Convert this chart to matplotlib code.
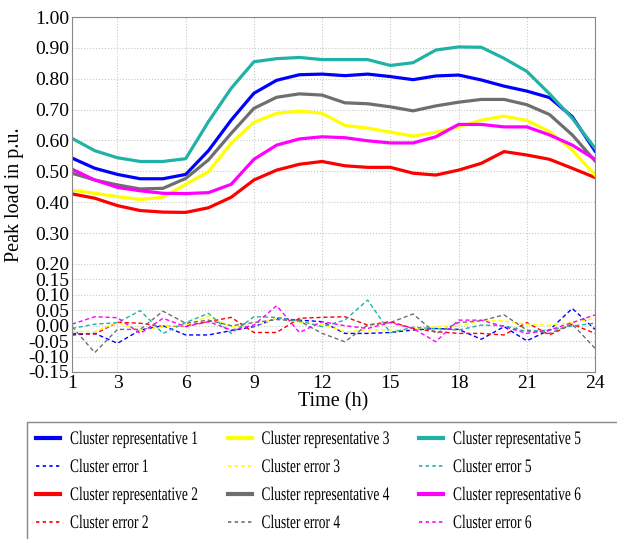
import numpy as np
import matplotlib
matplotlib.use('Agg')
import matplotlib.pyplot as plt
from matplotlib.lines import Line2D
from matplotlib.patches import Rectangle
from matplotlib.patheffects import AbstractPathEffect
from matplotlib.transforms import Affine2D

plt.rcParams['font.family'] = ['Liberation Serif', 'DejaVu Serif']

hours = list(range(1, 25))

# cluster representatives (p.u.)
rep1 = [0.543, 0.510, 0.490, 0.476, 0.476, 0.490, 0.567, 0.666, 0.753, 0.795, 0.813, 0.815,
        0.810, 0.815, 0.807, 0.797, 0.809, 0.812, 0.796, 0.776, 0.760, 0.739, 0.677, 0.566]
rep2 = [0.427, 0.413, 0.389, 0.373, 0.368, 0.367, 0.382, 0.416, 0.472, 0.504, 0.523, 0.532,
        0.518, 0.513, 0.513, 0.494, 0.488, 0.504, 0.526, 0.564, 0.553, 0.539, 0.510, 0.480]
rep3 = [0.439, 0.429, 0.418, 0.409, 0.416, 0.458, 0.499, 0.591, 0.659, 0.688, 0.695, 0.688,
        0.649, 0.640, 0.627, 0.614, 0.627, 0.644, 0.666, 0.679, 0.665, 0.629, 0.569, 0.488]
rep4 = [0.494, 0.472, 0.456, 0.443, 0.445, 0.477, 0.537, 0.623, 0.704, 0.740, 0.751, 0.747,
        0.722, 0.719, 0.709, 0.696, 0.712, 0.724, 0.733, 0.733, 0.716, 0.684, 0.618, 0.534]
rep5 = [0.607, 0.567, 0.544, 0.532, 0.532, 0.541, 0.661, 0.769, 0.855, 0.865, 0.869, 0.862,
        0.862, 0.862, 0.843, 0.852, 0.893, 0.903, 0.902, 0.866, 0.824, 0.751, 0.672, 0.575]
rep6 = [0.507, 0.472, 0.448, 0.437, 0.429, 0.428, 0.431, 0.458, 0.539, 0.585, 0.605, 0.612,
        0.609, 0.599, 0.592, 0.592, 0.612, 0.652, 0.652, 0.644, 0.644, 0.618, 0.585, 0.539]

# cluster errors (p.u.)
err1 = [-0.030, -0.025, -0.057, -0.014, 0.000, -0.030, -0.030, -0.016, -0.003, 0.024, 0.018, 0.013,
        -0.025, -0.025, -0.022, -0.014, -0.009, -0.012, -0.044, -0.003, -0.049, -0.014, 0.056, -0.012]
err2 = [-0.025, -0.027, 0.011, 0.008, -0.003, 0.000, 0.013, 0.027, -0.022, -0.022, 0.024, 0.027,
        0.029, 0.002, 0.013, -0.009, -0.019, -0.025, -0.025, -0.030, 0.010, -0.030, 0.005, -0.025]
err3 = [-0.019, -0.019, 0.010, -0.016, -0.003, 0.002, 0.030, -0.003, 0.000, 0.024, 0.010, 0.005,
        -0.020, -0.014, -0.014, -0.012, -0.003, 0.000, 0.016, 0.016, 0.005, 0.002, 0.010, 0.024]
err4 = [-0.003, -0.087, -0.012, -0.012, 0.047, 0.008, 0.018, 0.000, 0.010, 0.020, 0.015, -0.025,
        -0.052, 0.002, 0.010, 0.038, -0.025, 0.010, 0.016, 0.035, -0.014, -0.025, 0.005, -0.073]
err5 = [-0.009, 0.005, 0.010, 0.049, -0.025, 0.010, 0.040, -0.025, 0.029, 0.027, 0.015, -0.003,
        0.018, 0.083, -0.023, -0.005, -0.010, -0.014, 0.002, 0.000, -0.019, -0.014, -0.001, 0.008]
err6 = [0.005, 0.029, 0.026, -0.025, 0.024, -0.003, 0.013, -0.014, 0.002, 0.065, -0.022, 0.013,
        0.000, -0.009, 0.010, -0.009, -0.052, 0.018, 0.018, -0.003, -0.025, -0.014, 0.010, 0.035]

colors = ['#0000ff', '#ff0000', '#ffff00', '#6e6e6e', '#20b2a6', '#ff00ff']
reps = [rep1, rep2, rep3, rep4, rep5, rep6]
errs = [err1, err2, err3, err4, err5, err6]

yticks = [-0.15, -0.10, -0.05, 0.00, 0.05, 0.10, 0.15, 0.20, 0.30, 0.40, 0.50,
          0.60, 0.70, 0.80, 0.90, 1.00]
xticks = [1, 3, 6, 9, 12, 15, 18, 21, 24]


class Tall(AbstractPathEffect):
    """stretch glyphs upward from the baseline (legend font in the original is condensed)"""
    def __init__(self, sy):
        super().__init__()
        self.sy = sy

    def draw_path(self, renderer, gc, tpath, affine, rgbFace=None):
        renderer.draw_path(gc, tpath, Affine2D().scale(1, self.sy) + affine, rgbFace)


W, H = 617, 539
fig = plt.figure(figsize=(W / 100, H / 100), dpi=100)
ax = fig.add_axes([72/W, 1 - 372/H, (595 - 72)/W, (372 - 17)/H])

for i in range(6):
    ax.plot(hours, reps[i], color=colors[i], lw=2.3)
    ax.plot(hours, errs[i], color=colors[i], lw=1.0, ls=(0, (3, 2)))

ax.set_xlim(1, 24)
ax.set_ylim(-0.15, 1.0)
ax.set_xticks(xticks)
ax.set_yticks(yticks)
ax.set_yticklabels([f'{v:.2f}' for v in yticks])
ax.tick_params(length=0, labelsize=14, pad=2)
ax.grid(True, color='#c8c8c8', ls=':', lw=0.8)
for s in ax.spines.values():
    s.set_color('#888888')

ax.set_xlabel('Time (h)', fontsize=14.5, labelpad=0)
ax.set_ylabel('Peak load in p.u.', fontsize=14.5, labelpad=3)

# legend, drawn by hand: 3 columns x 4 rows, box runs off the figure edge
fig.add_artist(Rectangle((27/W, -0.05), 1.0, 1 - 422/H + 0.05, transform=fig.transFigure,
                         facecolor='white', edgecolor='#888888', lw=1.0))
entries = []
for i in range(6):
    entries.append((f'Cluster representative {i+1}', colors[i], '-', 3.0))
    entries.append((f'Cluster error {i+1}', colors[i], (0, (2, 2)), 1.2))
for k, (label, c, ls, lw) in enumerate(entries):
    col, row = k // 4, k % 4
    x0 = 36 + col * 191.5
    y0 = 438 + row * 28
    fig.add_artist(Line2D([x0/W, (x0 + 24)/W], [1 - y0/H, 1 - y0/H], transform=fig.transFigure,
                          color=c, ls=ls, lw=lw))
    fig.text((x0 + 34)/W, 1 - (y0 + 6)/H, label, fontsize=9.7, va='baseline', ha='left',
             path_effects=[Tall(1.42)])

fig.savefig('out.png', dpi=100)
